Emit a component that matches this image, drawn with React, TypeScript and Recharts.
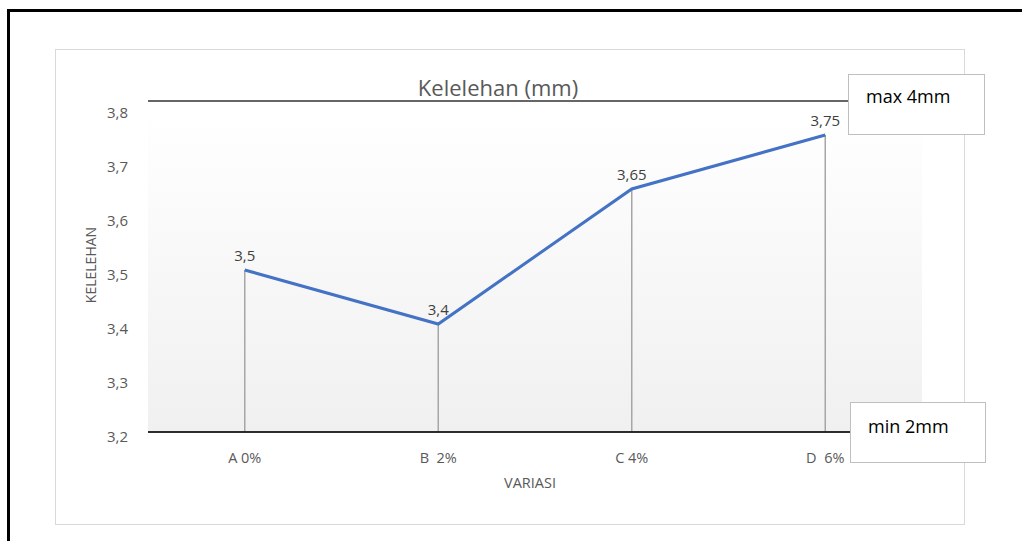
import React from "react";
import { ComposedChart, Line, Bar, XAxis, YAxis, CartesianGrid, ReferenceLine, LabelList } from "recharts";

const categories = ["A 0%", "B  2%", "C 4%", "D  6%"];
const kelelehan = [3.5, 3.4, 3.65, 3.75];
const yTicks = [3.2, 3.3, 3.4, 3.5, 3.6, 3.7, 3.8];
const maxLine = 3.813;
const minLine = 3.2;

const data = categories.map((c, i) => ({ cat: c, value: kelelehan[i] }));

const FONT = "'Open Sans', 'DejaVu Sans', sans-serif";
const comma = (v: number) => String(v).replace(".", ",");

function YTick({ x, y, payload }: any) {
  return (
    <text x={x} y={y + 4} textAnchor="end" dominantBaseline="central" fill="#595959" fontSize={15} fontFamily={FONT}>
      {comma(payload.value)}
    </text>
  );
}

function XTick({ x, y, payload }: any) {
  return (
    <text x={x} y={y + 23} textAnchor="middle" fill="#595959" fontSize={14.5} fontFamily={FONT} style={{ whiteSpace: "pre" }}>
      {payload.value}
    </text>
  );
}

const boxStyle: React.CSSProperties = {
  position: "absolute",
  background: "#fff",
  border: "1px solid #bfbfbf",
  boxSizing: "border-box",
  fontFamily: FONT,
  fontSize: 18,
  color: "#000",
  paddingLeft: 17,
};

export default function App() {
  return (
    <div style={{ position: "absolute", left: 0, top: 0, width: 1022, height: 541, overflow: "hidden", background: "#fff" }}>
      {/* outer frame */}
      <div style={{ position: "absolute", left: 7, top: 9, width: 1100, height: 700, border: "3px solid #000" }} />
      {/* chart area border */}
      <div style={{ position: "absolute", left: 55, top: 49, width: 910, height: 476, border: "1px solid #d9d9d9", boxSizing: "border-box" }} />

      <div style={{ position: "absolute", left: 0, top: 0 }}>
        <ComposedChart width={1022} height={541} data={data} margin={{ top: 108, right: 100, bottom: 89, left: 48 }}>
          <defs>
            <linearGradient id="plotBg" x1="0" y1="0" x2="0" y2="1">
              <stop offset="0%" stopColor="#ffffff" />
              <stop offset="100%" stopColor="#f0f0f0" />
            </linearGradient>
          </defs>
          <CartesianGrid fill="url(#plotBg)" stroke="none" horizontal={false} vertical={false} />
          <XAxis
            dataKey="cat"
            tick={<XTick />}
            tickLine={false}
            axisLine={{ stroke: "#1f1f1f", strokeWidth: 1.5 }}
            height={20}
          />
          <YAxis
            domain={[3.2, 3.8]}
            ticks={yTicks}
            tick={<YTick />}
            tickLine={false}
            axisLine={false}
            tickSize={0}
            tickMargin={20}
            width={100}
            allowDataOverflow
          />
          <ReferenceLine y={maxLine} stroke="#333" strokeWidth={1.3} ifOverflow="visible" />
          <ReferenceLine y={minLine} stroke="#1f1f1f" strokeWidth={1.5} ifOverflow="visible" />
          <Bar dataKey="value" barSize={1.5} fill="#a6a6a6" isAnimationActive={false} />
          <Line
            type="linear"
            dataKey="value"
            stroke="#4472C4"
            strokeWidth={3}
            dot={false}
            activeDot={false}
            isAnimationActive={false}
          >
            <LabelList
              dataKey="value"
              position="top"
              offset={9}
              formatter={(v: any) => comma(v)}
              style={{ fill: "#404040", fontSize: 15, fontFamily: FONT }}
            />
          </Line>
          <text x={498} y={87} textAnchor="middle" dominantBaseline="central" fill="#595959" fontSize={22} fontFamily={FONT}>
            Kelelehan (mm)
          </text>
          <text
            x={90}
            y={265}
            textAnchor="middle"
            dominantBaseline="central"
            fill="#595959"
            fontSize={14}
            fontFamily={FONT}
            transform="rotate(-90 90 265)"
          >
            KELELEHAN
          </text>
          <text x={530} y={482} textAnchor="middle" dominantBaseline="central" fill="#595959" fontSize={14.5} fontFamily={FONT}>
            VARIASI
          </text>
        </ComposedChart>
      </div>

      <div style={{ ...boxStyle, left: 848, top: 74, width: 137, height: 61, paddingTop: 9 }}>max 4mm</div>
      <div style={{ ...boxStyle, left: 850, top: 402, width: 136, height: 61, paddingTop: 11 }}>min 2mm</div>
    </div>
  );
}
